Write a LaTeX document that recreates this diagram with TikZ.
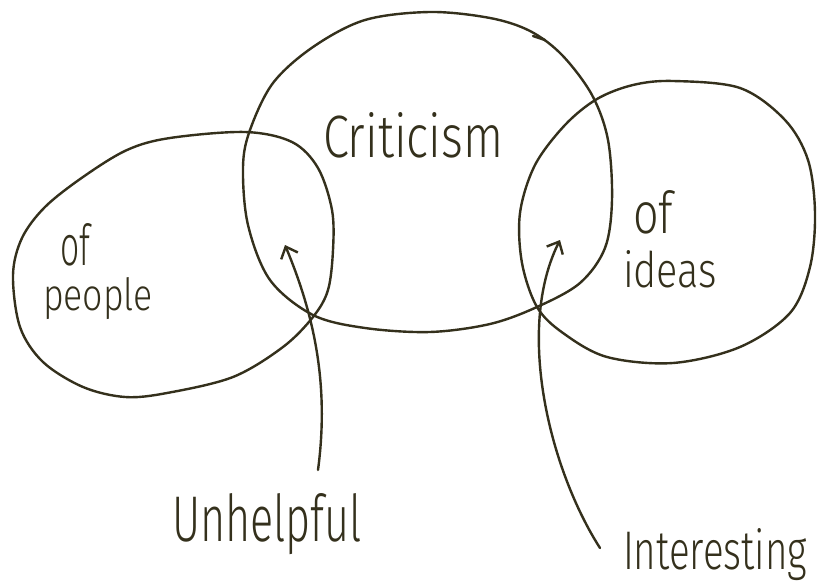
\documentclass[tikz,border=0pt]{standalone}
\usepackage{fontspec}
\setmainfont{Fira Sans}[UprightFont={* Light}]
\usepackage{graphicx}
\usetikzlibrary{arrows.meta}
\definecolor{ink}{RGB}{52,48,28}
\tikzset{
  pen/.style={draw=ink, line width=2.4pt, line cap=round, line join=round},
  lbl/.style={inner sep=0pt, outer sep=0pt, anchor=base west, text=ink},
  pointer/.style={pen, -{Straight Barb[length=10pt,width=18pt,line width=2.4pt]}},
}
\begin{document}
\begin{tikzpicture}[x=1pt,y=-1pt]
\fill[white] (0,0) rectangle (817,583);
\useasboundingbox (0,0) rectangle (817,583);

% Criticism (big circle)
\draw[pen] plot[smooth cycle, tension=0.55] coordinates {
  (430,12) (490,18) (530,31) (562,55) (592,95) (608,140) (612,200) (605,248)
  (580,283) (537,307) (490,324) (430,332) (365,328) (313,315) (270,280)
  (248,225) (243,167) (250,130) (273,83) (313,47) (365,20)};
\draw[pen] (533,36) -- (545,40);

% of people (left shape)
\draw[pen] plot[smooth cycle, tension=0.55] coordinates {
  (127,150) (170,138) (245,132) (292,142) (318,168) (332,210) (333,250)
  (328,290) (313,317) (283,347) (233,377) (167,393) (125,397) (83,387)
  (43,362) (20,327) (13,275) (22,238) (45,207) (83,177)};

% of ideas (right shape)
\draw[pen] plot[smooth cycle, tension=0.55] coordinates {
  (597,99) (633,85) (673,81) (740,88) (785,120) (808,160) (815,213) (810,267)
  (790,313) (740,347) (673,363) (607,357) (563,333) (537,307) (522,263)
  (520,213) (535,165) (565,125)};

% labels
\node[lbl] (crit) at (323,158) {\resizebox{180pt}{45pt}{Criticism}};
\node[lbl] (ofp) at (60,265) {\resizebox{30pt}{42pt}{of}};
\node[lbl] (people) at (43,310) {\resizebox{110pt}{33pt}{people}};
\node[lbl] (ofi) at (633,233) {\resizebox{40pt}{43pt}{of}};
\node[lbl] (ideas) at (623,287) {\resizebox{94pt}{37pt}{ideas}};
\node[lbl] (unhelp) at (172,541) {\resizebox{190pt}{48pt}{Unhelpful}};
\node[lbl] (inter) at (623,569) {\resizebox{184pt}{41pt}{Interesting}};

% pointers
\coordinate (uTail) at (318,470);
\coordinate (uTip) at (285,245);
\coordinate (iTail) at (600,548);
\coordinate (iTip) at (560,240);
\draw[pointer] (uTail) .. controls (330,380) and (312,310) .. (uTip);
\draw[pointer] (iTail) .. controls (550,470) and (515,330) .. (iTip);
\end{tikzpicture}
\end{document}
